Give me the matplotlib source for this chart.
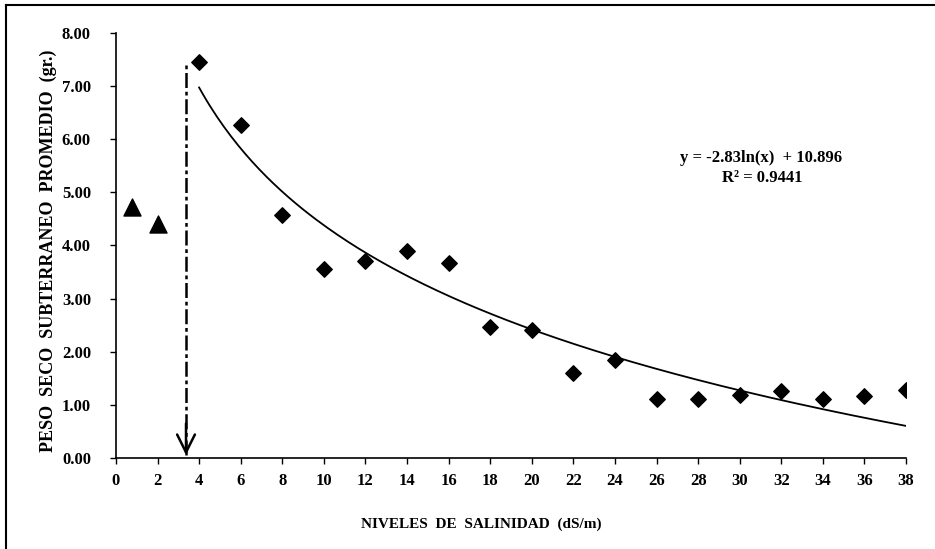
import matplotlib
matplotlib.use("Agg")
import matplotlib.pyplot as plt
import numpy as np
from matplotlib.lines import Line2D

plt.rcParams['font.family'] = ['Liberation Serif', 'DejaVu Serif']
plt.rcParams['font.weight'] = 'bold'

# control treatments (triangles)
x_tri = [0.75, 2]
y_tri = [4.73, 4.41]

# salinity treatments (diamonds)
x_sal = [4, 6, 8, 10, 12, 14, 16, 18, 20, 22, 24, 26, 28, 30, 32, 34, 36, 38]
y_sal = [7.46, 6.27, 4.58, 3.56, 3.71, 3.90, 3.67, 2.47, 2.41, 1.60, 1.85,
         1.11, 1.10, 1.19, 1.26, 1.11, 1.17, 1.28]

# logarithmic fit
fit_a = -2.83
fit_b = 10.896
fit_r2 = 0.9441

threshold_x = 3.37
threshold_top = 7.45

x_ticks = list(range(0, 39, 2))
y_ticks = [0, 1, 2, 3, 4, 5, 6, 7, 8]

fig = plt.figure(figsize=(9.35, 5.49), dpi=100)
ax = fig.add_axes([0.124, 0.166, 0.845, 0.774])

ax.scatter(x_tri, y_tri, marker='^', s=150, color='black', zorder=3)
ax.scatter(x_sal, y_sal, marker='D', s=62, color='black', zorder=3)

xf = np.linspace(4, 38, 200)
ax.plot(xf, fit_a * np.log(xf) + fit_b, color='black', linewidth=1.3)

# threshold marker
ax.plot([threshold_x, threshold_x], [0.05, threshold_top], color='black',
        linestyle=(0, (6, 1.5, 1.5, 1.5)), linewidth=1.8)
ax.annotate('', xy=(threshold_x, 0.0), xytext=(threshold_x, 0.7),
            arrowprops=dict(arrowstyle='->', color='black', lw=1.8,
                            mutation_scale=32))

ax.text(31.05, 5.65, f'y = {fit_a}ln(x)  + {fit_b}', ha='center',
        va='center', fontsize=12)
ax.text(31.1, 5.27, f'R² = {fit_r2}', ha='center', va='center', fontsize=12)

ax.set_xlim(0, 38)
ax.set_ylim(0, 8)
ax.set_xticks(x_ticks)
ax.set_yticks(y_ticks)
ax.set_yticklabels([f'{v:.2f}' for v in y_ticks])
ax.tick_params(axis='both', labelsize=12, length=4, width=1, direction='out')
ax.tick_params(axis='x', pad=7)
ax.tick_params(axis='y', pad=14)
for lab in ax.get_xticklabels() + ax.get_yticklabels():
    lab.set_fontweight('bold')

for s in ['top', 'right']:
    ax.spines[s].set_visible(False)
for s in ['left', 'bottom']:
    ax.spines[s].set_linewidth(1.2)

ax.set_xlabel('NIVELES  DE  SALINIDAD  (dS/m)', fontsize=11,
              fontweight='bold')
ax.xaxis.set_label_coords(0.462, -0.14)
ax.set_ylabel('PESO  SECO  SUBTERRANEO  PROMEDIO  (gr.)', fontsize=13,
              fontweight='bold')
ax.yaxis.set_label_coords(-0.075, 0.487)

# outer frame lines (top and left)
fig.add_artist(Line2D([0.006, 1.0], [0.991, 0.991], color='black', lw=1.5,
                      transform=fig.transFigure))
fig.add_artist(Line2D([0.006, 0.006], [0.0, 0.991], color='black', lw=1.5,
                      transform=fig.transFigure))

fig.savefig('out.png', dpi=100)
